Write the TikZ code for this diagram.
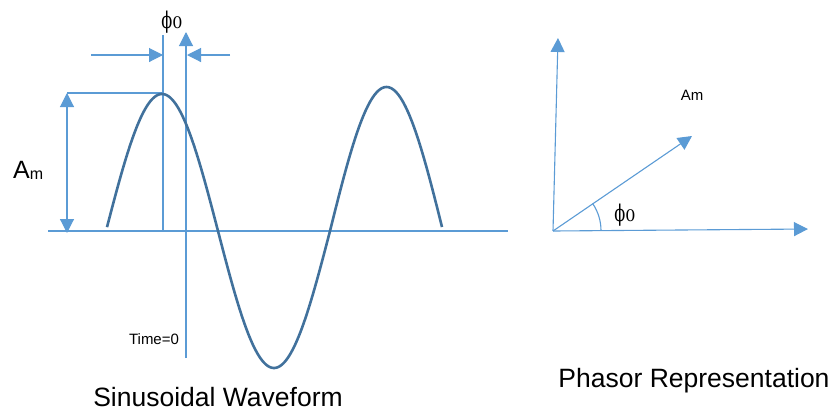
\documentclass[tikz,border=0pt]{standalone}
\usepackage{fontspec}
\setmainfont{Liberation Sans}
\newfontfamily\phifont{DejaVu Serif}
\usetikzlibrary{arrows.meta}
\definecolor{thin}{HTML}{5B9BD5}
\definecolor{wave}{HTML}{41719C}
\tikzset{
  thinline/.style={draw=thin, line width=1.1bp},
  tri/.style={-{Triangle[length=14bp,width=14bp]}},
  tritwo/.style={{Triangle[length=14bp,width=14bp]}-{Triangle[length=14bp,width=14bp]}},
  wavestyle/.style={draw=wave, line width=2.6bp},
  lbl/.style={inner sep=0pt, text=black},
}
\newcommand{\phizero}{\phifont\fontsize{23bp}{25bp}\selectfont\scalebox{0.7}[1]{ϕ}\fontsize{16bp}{18bp}\selectfont 0}
\begin{document}
\begin{tikzpicture}[x=1bp,y=-1bp]
\useasboundingbox (0,0) rectangle (831,412);
% left part coordinates
\coordinate (axL) at (48,231);
\coordinate (axR) at (508,231);
\coordinate (t0top) at (186,32);
\coordinate (t0bot) at (186,358);
\coordinate (pkTop) at (163,35);
\coordinate (pkBot) at (163,231);
\coordinate (pk) at (163,93);
\coordinate (hL) at (67,93);
\coordinate (aTop) at (67,93);
\coordinate (aBot) at (67,233);
\coordinate (lArrS) at (91,55);
\coordinate (lArrE) at (163,55);
\coordinate (rArrS) at (230,55);
\coordinate (rArrE) at (187,55);
% lines
\draw[thinline] (axL) -- (axR);
\draw[thinline,tri] (t0bot) -- (t0top);
\draw[thinline] (pkBot) -- (pkTop);
\draw[thinline] (hL) -- (pk);
\draw[thinline,tritwo] (aBot) -- (aTop);
\draw[thinline,tri] (lArrS) -- (lArrE);
\draw[thinline,tri] (rArrS) -- (rArrE);
% wave
\draw[wavestyle, domain=107:330, samples=160, smooth, variable=\x]
  plot ({\x},{231+137*sin(1.6071*(\x-218))})
  -- plot[domain=330:442, samples=90, smooth, variable=\x]
  ({\x},{231-144*sin(1.5929*(\x-330))});
% labels
\node[lbl] (phiTop) at (172,22) {\phizero};
\node[lbl, anchor=base west] (amL) at (13,178) {\fontsize{25bp}{28bp}\selectfont A\raisebox{-1bp}{\fontsize{16bp}{18bp}\selectfont m}};
\node[lbl] (time0) at (154,339) {\fontsize{15bp}{17bp}\selectfont Time=0};
\node[lbl] (sinT) at (218,397) {\fontsize{26.5bp}{30bp}\selectfont Sinusoidal Waveform};
% phasor
\coordinate (O) at (553,231);
\coordinate (vTop) at (558,38);
\coordinate (hEnd) at (808,229);
\coordinate (ph) at (692,136);
\draw[thinline,tri] (O) -- (vTop);
\draw[thinline,tri] (O) -- (hEnd);
\draw[thinline,tri] (O) -- (ph);
\draw[thinline] (601,230.6) arc[start angle=0, end angle=-34.4, radius=48];
\node[lbl] (phiR) at (625,215) {\phizero};
\node[lbl] (amR) at (692,95) {\fontsize{15bp}{17bp}\selectfont Am};
\node[lbl] (phT) at (694,381) {\fontsize{26.5bp}{30bp}\selectfont Phasor Representation};
\end{tikzpicture}
\end{document}
